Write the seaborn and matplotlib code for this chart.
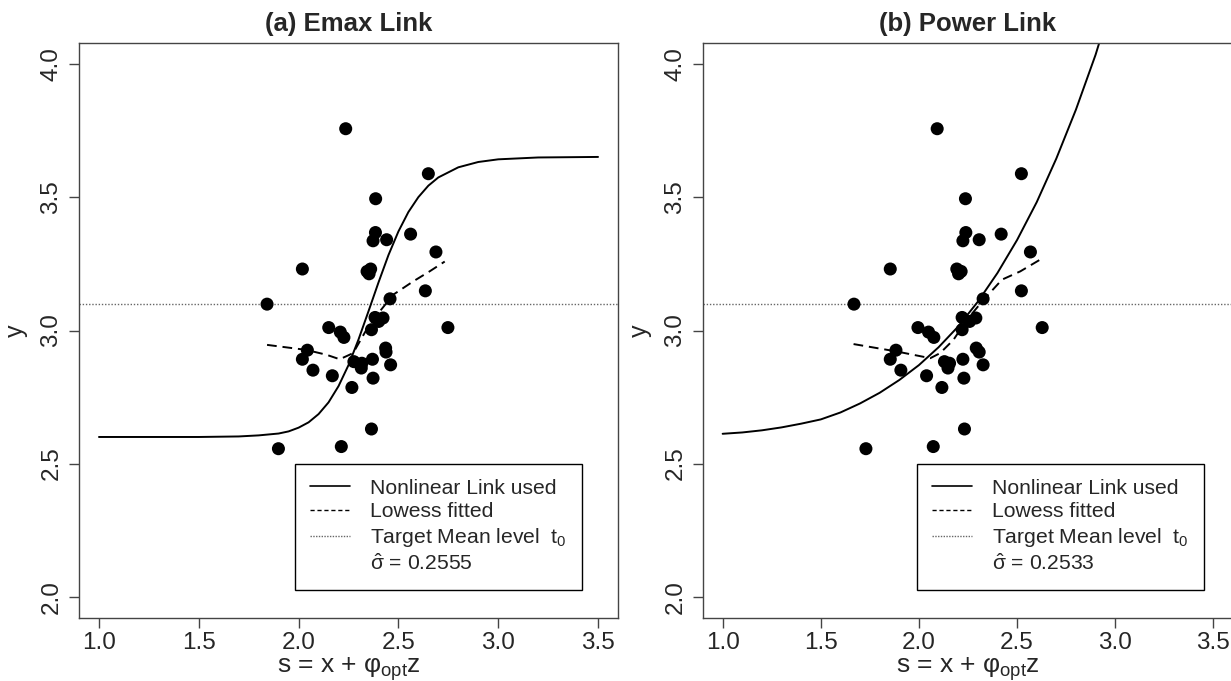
import matplotlib
matplotlib.use("Agg")
import matplotlib.pyplot as plt
from matplotlib.lines import Line2D
import seaborn as sns
import pandas as pd

# ---------------- data ----------------
y_obs = [3.758, 3.589, 3.495, 3.368, 3.337, 3.341, 3.362, 3.295, 3.231, 3.231,
         3.222, 3.213, 3.149, 3.099, 3.119, 3.049, 3.034, 3.047, 3.003, 3.011,
         2.994, 2.974, 3.011, 2.934, 2.919, 2.926, 2.892, 2.851, 2.883, 2.877,
         2.859, 2.892, 2.871, 2.830, 2.821, 2.786, 2.630, 2.556, 2.564]
s_emax = [2.236, 2.650, 2.386, 2.385, 2.373, 2.441, 2.561, 2.688, 2.019, 2.361,
          2.343, 2.353, 2.635, 1.842, 2.458, 2.383, 2.401, 2.423, 2.365, 2.151,
          2.209, 2.227, 2.748, 2.436, 2.438, 2.044, 2.019, 2.072, 2.277, 2.317,
          2.314, 2.370, 2.461, 2.169, 2.373, 2.267, 2.365, 1.899, 2.214]
s_power = [2.093, 2.522, 2.237, 2.239, 2.224, 2.307, 2.419, 2.568, 1.854, 2.193,
           2.215, 2.202, 2.522, 1.669, 2.327, 2.220, 2.258, 2.290, 2.220, 1.995,
           2.049, 2.076, 2.628, 2.292, 2.307, 1.883, 1.854, 1.908, 2.130, 2.156,
           2.148, 2.224, 2.327, 2.039, 2.229, 2.117, 2.232, 1.730, 2.073]

# Emax link curve
emax_s = [1.00, 1.25, 1.50, 1.70, 1.80, 1.90, 1.95, 2.00, 2.05, 2.10, 2.15, 2.20,
          2.25, 2.30, 2.35, 2.40, 2.45, 2.50, 2.55, 2.60, 2.65, 2.70, 2.80, 2.90,
          3.00, 3.20, 3.50]
emax_y = [2.600, 2.600, 2.600, 2.602, 2.606, 2.613, 2.621, 2.635, 2.655, 2.686,
          2.730, 2.791, 2.870, 2.966, 3.072, 3.180, 3.283, 3.372, 3.445, 3.501,
          3.544, 3.575, 3.613, 3.633, 3.643, 3.650, 3.652]
# Power link curve
power_s = [1.00, 1.10, 1.20, 1.30, 1.40, 1.50, 1.60, 1.70, 1.80, 1.90, 2.00,
           2.10, 2.20, 2.30, 2.40, 2.50, 2.60, 2.70, 2.80, 2.90, 2.92]
power_y = [2.612, 2.617, 2.625, 2.636, 2.650, 2.666, 2.692, 2.726, 2.766, 2.814,
           2.870, 2.937, 3.015, 3.108, 3.216, 3.340, 3.482, 3.646, 3.830, 4.036,
           4.084]

# Lowess fits
low_emax_s = [1.842, 2.039, 2.139, 2.206, 2.273, 2.340, 2.406, 2.473, 2.573, 2.656, 2.732]
low_emax_y = [2.946, 2.927, 2.909, 2.892, 2.915, 3.003, 3.071, 3.134, 3.184, 3.222, 3.259]
low_power_s = [1.667, 1.888, 2.058, 2.108, 2.176, 2.244, 2.329, 2.423, 2.516, 2.633]
low_power_y = [2.949, 2.921, 2.896, 2.915, 2.965, 3.040, 3.115, 3.191, 3.222, 3.273]

target_level = 3.1
titles = ["(a) Emax Link", "(b) Power Link"]
sigma_labels = ["0.2555", "0.2533"]
x_ticks = [1.0, 1.5, 2.0, 2.5, 3.0, 3.5]
y_ticks = [2.0, 2.5, 3.0, 3.5, 4.0]

# ---------------- style ----------------
sns.set_style("white")
plt.rcParams["font.family"] = ["Liberation Sans", "DejaVu Sans"]
plt.rcParams["mathtext.fontset"] = "custom"
plt.rcParams["mathtext.rm"] = "Liberation Sans"
plt.rcParams["mathtext.it"] = "Liberation Sans"
plt.rcParams["mathtext.bf"] = "Liberation Sans:bold"
plt.rcParams["mathtext.sf"] = "Liberation Sans"

fig = plt.figure(figsize=(12.31, 6.81), dpi=100)
W, H = 1231.0, 681.0
ax_l = fig.add_axes([79 / W, (H - 618) / H, 539 / W, 575 / H])
ax_r = fig.add_axes([703 / W, (H - 618) / H, 530 / W, 575 / H])

panels = [
    (ax_l, s_emax, emax_s, emax_y, low_emax_s, low_emax_y, 1.98),
    (ax_r, s_power, power_s, power_y, low_power_s, low_power_y, 1.99),
]

for i, (ax, s_pts, cs, cy, ls_, ly_, leg_x) in enumerate(panels):
    pts = pd.DataFrame({"s": s_pts, "y": y_obs})
    curve = pd.DataFrame({"s": cs, "y": cy})
    low = pd.DataFrame({"s": ls_, "y": ly_})

    ax.axhline(target_level, color="#666666", lw=1.0, ls=(0, (1, 1.3)), zorder=1)
    sns.lineplot(data=curve, x="s", y="y", ax=ax, color="black", lw=1.4,
                 sort=False, estimator=None, zorder=2)
    sns.lineplot(data=low, x="s", y="y", ax=ax, color="black", lw=1.4,
                 sort=False, estimator=None, zorder=2, dashes=False)
    ax.lines[-1].set_linestyle((0, (5, 3)))
    sns.scatterplot(data=pts, x="s", y="y", ax=ax, color="black", s=88,
                    edgecolor="none", zorder=3)

    ax.set_xlim(0.9, 3.6)
    ax.set_ylim(1.92, 4.08)
    ax.set_xticks(x_ticks)
    ax.set_xticklabels([f"{t:.1f}" for t in x_ticks])
    ax.set_yticks(y_ticks)
    ax.set_yticklabels([f"{t:.1f}" for t in y_ticks])
    ax.tick_params(axis="both", which="both", direction="out", length=7,
                   width=1, color="#444444", labelsize=17.5, pad=3,
                   bottom=True, left=True)
    ax.tick_params(axis="y", labelrotation=90, pad=5)
    for lab in ax.get_yticklabels():
        lab.set_va("center")
    for sp in ax.spines.values():
        sp.set_color("#444444")
        sp.set_linewidth(1.0)
        sp.set_visible(True)

    ax.set_xlabel("s = x + $φ_{\\mathrm{opt}}$z", fontsize=19, labelpad=1)
    ax.set_ylabel("y", fontsize=18, labelpad=9)
    ax.set_title(titles[i], fontsize=18.5, fontweight="bold", pad=9)

    handles = [
        Line2D([], [], color="black", lw=1.2),
        Line2D([], [], color="black", lw=1.0, ls=(0, (3, 2))),
        Line2D([], [], color="#666666", lw=1.0, ls=(0, (1, 1))),
        Line2D([], [], color="none"),
    ]
    labels = [
        "Nonlinear Link used",
        "Lowess fitted",
        "Target Mean level  $\\mathrm{t}_0$",
        "$\\hat{\\sigma}$ = " + sigma_labels[i],
    ]
    leg = ax.legend(handles, labels, loc="upper left",
                    bbox_to_anchor=(leg_x, 2.5), bbox_transform=ax.transData,
                    fontsize=15.2, frameon=True, fancybox=False, framealpha=1,
                    edgecolor="black", borderpad=0.72, labelspacing=0.22,
                    handlelength=1.9, handletextpad=0.95, borderaxespad=0)
    leg.get_frame().set_linewidth(1.0)

fig.savefig("out.png", dpi=100)
